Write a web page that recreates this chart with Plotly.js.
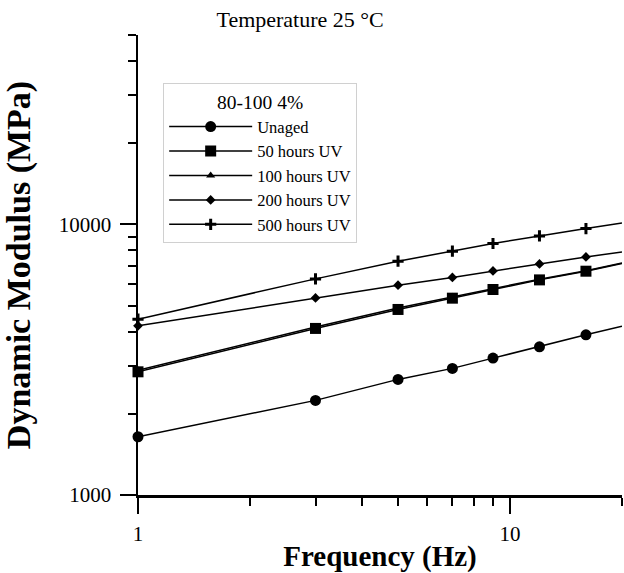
<!DOCTYPE html>
<html>
<head>
<meta charset="utf-8">
<script src="https://cdn.plot.ly/plotly-3.0.1.min.js"></script>
<style>
  html, body { margin: 0; padding: 0; background: #fff; }
  #chart { width: 624px; height: 573px; }
</style>
</head>
<body>
<div id="chart"></div>
<script>
// ---- data ----
const frequency = [1, 3, 5, 7, 9, 12, 16, 20];       // Hz
const unaged    = [1641, 2236, 2673, 2935, 3203, 3526, 3904, 4204];
const uv50      = [2851, 4123, 4845, 5333, 5742, 6230, 6708, 7161];
const uv100     = [2888, 4177, 4908, 5402, 5788, 6267, 6735, 7190];
const uv200     = [4214, 5346, 5955, 6360, 6725, 7137, 7572, 7903];
const uv500     = [4461, 6284, 7303, 7951, 8488, 9055, 9641, 10111];
const seriesNames = ['Unaged', '50 hours UV', '100 hours UV', '200 hours UV', '500 hours UV'];
const markedPoints = 7;   // markers on the first 7 frequencies, line continues to 20 Hz

const xMajor = [1, 10];
const xMinor = [2, 3, 4, 5, 6, 7, 8, 9, 20];
const yMajor = [1000, 10000];
const yMinor = [2000, 3000, 4000, 5000, 6000, 7000, 8000, 9000, 20000, 30000, 40000, 50000];

const FONT = 'Liberation Serif, Times New Roman, serif';

const styles = [
  {symbol: 'circle', size: 11, lw: 0},
  {symbol: 'square', size: 11, lw: 0},
  {symbol: 'triangle-up', size: 8, lw: 0},
  {symbol: 'diamond', size: 7.5, lw: 0},
  {symbol: 'cross-thin', size: 8, lw: 3}
];
const values = [unaged, uv50, uv100, uv200, uv500];
// draw triangles before squares (they sit under them), keep legend order with legendrank
const drawOrder = [0, 2, 1, 3, 4];

const traces = [];
drawOrder.forEach(function (i) {
  const s = styles[i];
  traces.push({
    x: frequency.slice(0, markedPoints),
    y: values[i].slice(0, markedPoints),
    name: seriesNames[i],
    legendgroup: 'g' + i,
    legendrank: i + 1,
    mode: 'lines+markers',
    cliponaxis: false,
    line: {color: '#000', width: 1.5},
    marker: {symbol: s.symbol, size: s.size, color: '#000',
             line: {color: '#000', width: s.lw}}
  });
  traces.push({
    x: frequency.slice(markedPoints - 1),
    y: values[i].slice(markedPoints - 1),
    legendgroup: 'g' + i,
    showlegend: false,
    hoverinfo: 'skip',
    mode: 'lines',
    cliponaxis: false,
    line: {color: '#000', width: 1.5}
  });
});

const layout = {
  width: 624, height: 573,
  margin: {l: 138, r: 2, t: 35, b: 78},
  paper_bgcolor: '#fff', plot_bgcolor: '#fff',
  font: {family: FONT, color: '#000'},
  showlegend: true,
  title: {
    text: 'Temperature 25 °C',
    font: {family: FONT, size: 22, color: '#000'},
    x: 0.481, xref: 'container', xanchor: 'center',
    y: 0.967, yref: 'container', yanchor: 'middle'
  },
  xaxis: {
    type: 'log',
    range: [0, Math.log10(20)],
    showline: true, linecolor: '#000', linewidth: 2.5,
    ticks: 'outside', ticklen: 16, tickwidth: 2, tickcolor: '#000',
    tickmode: 'array', tickvals: xMajor, ticktext: xMajor.map(String),
    ticklabelstandoff: 2,
    minor: {tickmode: 'array', tickvals: xMinor, ticks: 'outside', ticklen: 8, tickwidth: 2, tickcolor: '#000', showgrid: false},
    showgrid: false, zeroline: false,
    tickfont: {family: FONT, size: 21, color: '#000'},
    title: {text: 'Frequency (Hz)', font: {family: FONT, size: 29, weight: 'bold', color: '#000'}, standoff: 4}
  },
  yaxis: {
    type: 'log',
    range: [3, Math.log10(50000)],
    showline: true, linecolor: '#000', linewidth: 2.5,
    ticks: 'outside', ticklen: 16, tickwidth: 2, tickcolor: '#000',
    tickmode: 'array', tickvals: yMajor, ticktext: yMajor.map(String),
    ticklabelstandoff: 4,
    minor: {tickmode: 'array', tickvals: yMinor, ticks: 'outside', ticklen: 8, tickwidth: 2, tickcolor: '#000', showgrid: false},
    showgrid: false, zeroline: false,
    tickfont: {family: FONT, size: 21, color: '#000'},
    title: {text: 'Dynamic Modulus (MPa)', font: {family: FONT, size: 34, weight: 'bold', color: '#000'}, standoff: 18}
  },
  legend: {
    x: 0.052, y: 0.8957, xanchor: 'left', yanchor: 'top',
    bgcolor: '#fff', bordercolor: '#d0d0d0', borderwidth: 1,
    font: {family: FONT, size: 16.5, color: '#000'},
    title: {text: '80-100 4%', side: 'top center', font: {family: FONT, size: 19.5, color: '#000'}},
    itemwidth: 83,
    traceorder: 'normal'
  }
};

Plotly.newPlot('chart', traces, layout, {displayModeBar: false, staticPlot: true});
</script>
</body>
</html>
